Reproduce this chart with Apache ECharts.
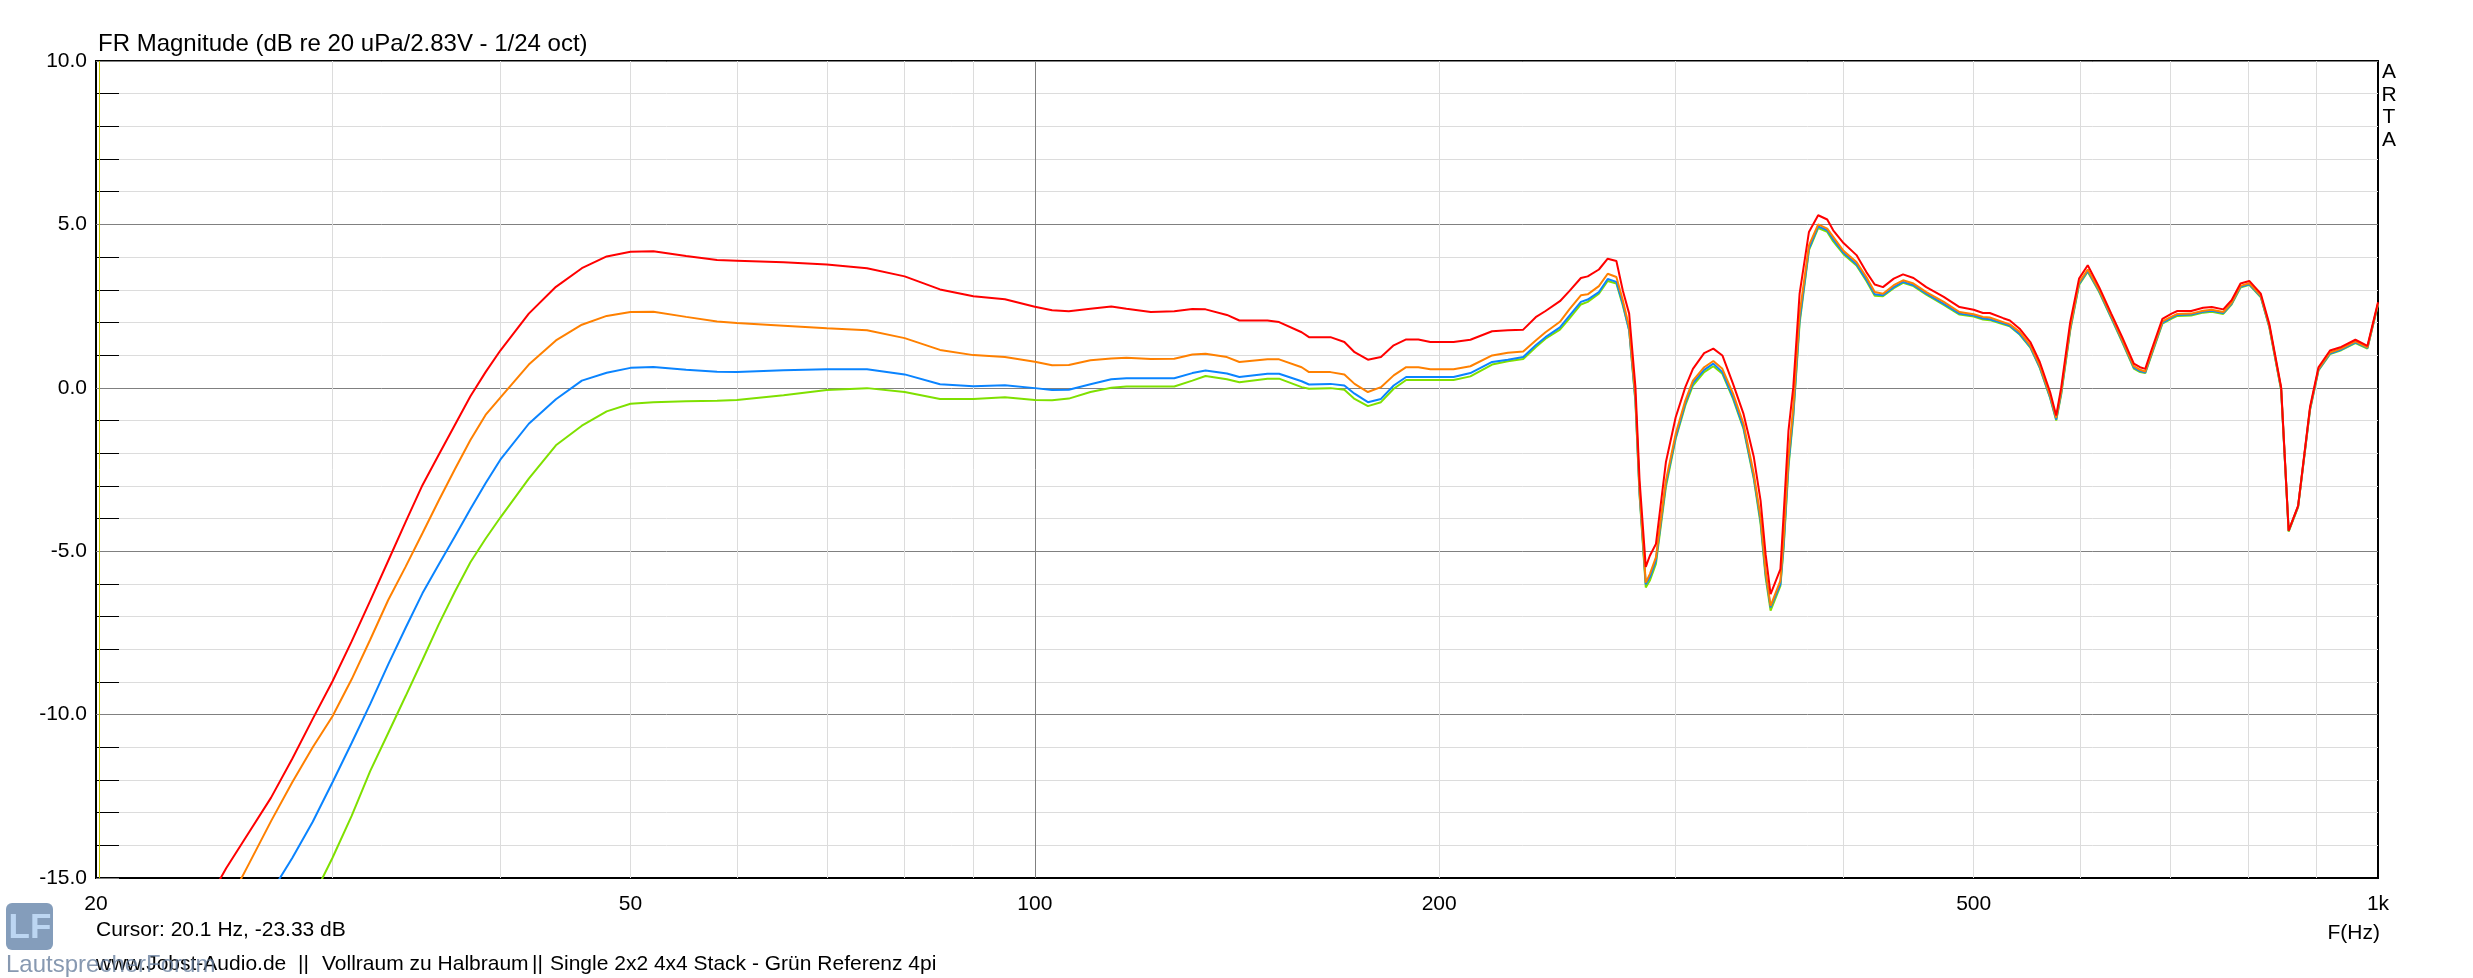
<!DOCTYPE html>
<html><head><meta charset="utf-8">
<script src="https://cdn.jsdelivr.net/npm/echarts@6/dist/echarts.min.js"></script>
<style>html,body{margin:0;padding:0;background:#fff;overflow:hidden}#chart{width:2473px;height:978px}</style>
</head><body><div id="chart"></div>
<script>
// ---- data ----
const freqHz = [
  24,25,26,27,28,29,30,31,32,33,34,35,36,37,38,39,40,42,44,46,48,50,52,55,
  58,60,65,70,75,80,85,90,95,100,103,106,110,114,
  117,122,127,131,134,139,142,149,152,158,160,166,170,173,177,181,185,189,193,197,205,211,219,225,231,236,240,
  246,250,255,258,263,267,271,274,277,280,282,285,287,290,295,300,305,309,315,320,325,331,337,343,347,350,353,359,361,364,
  367,371,377,383,389,393,400,409,416,422,428,436,443,451,461,475,488,500,508,514,526,532,541,551,560,570,576,581,590,
  599,608,620,633,645,658,665,671,678,691,702,709,726,741,752,767,778,790,802,818,830,847,858,872,890,903,921,939,962,982,1000
];
const redDb = [
  -16.0,-14.7,-13.6,-12.54,-11.35,-10.13,-8.98,-7.76,-6.52,-5.30,-4.11,-2.98,-2.04,-1.14,-0.26,0.48,1.14,2.27,3.09,3.66,4.02,4.16,4.18,4.03,
  3.91,3.89,3.84,3.77,3.66,3.41,3.01,2.80,2.71,2.48,2.37,2.34,2.42,2.49,
  2.42,2.32,2.34,2.41,2.40,2.23,2.06,2.06,2.01,1.70,1.55,1.55,1.40,1.09,0.86,0.94,1.30,1.48,1.48,1.40,1.40,1.47,1.73,1.76,1.78,2.16,2.35,
  2.65,2.96,3.36,3.41,3.62,3.95,3.88,2.98,2.27,0.02,-2.84,-5.48,-5.14,-4.78,-2.28,-0.90,0.02,0.58,1.06,1.20,0.99,0.12,-0.80,-2.12,-3.45,-5.09,-6.31,-5.55,-3.86,-1.31,
  0.02,2.88,4.77,5.28,5.15,4.82,4.43,4.06,3.54,3.16,3.08,3.34,3.47,3.36,3.08,2.78,2.47,2.39,2.29,2.29,2.13,2.06,1.81,1.40,0.79,-0.13,-0.85,0.02,2.01,
  3.34,3.75,3.08,2.27,1.55,0.74,0.63,0.58,1.14,2.11,2.27,2.35,2.35,2.45,2.47,2.40,2.68,3.19,3.27,2.88,1.96,0.02,-4.37,-3.61,-0.59,0.63,1.14,1.25,1.47,1.28,2.62
];
const orangeDb = [
  -17.3,-15.9,-14.56,-13.26,-12.07,-11.0,-10.05,-8.92,-7.71,-6.50,-5.48,-4.45,-3.44,-2.49,-1.60,-0.83,-0.30,0.71,1.45,1.93,2.20,2.32,2.33,2.17,
  2.03,1.98,1.90,1.82,1.76,1.52,1.16,1.00,0.94,0.80,0.69,0.70,0.84,0.90,
  0.92,0.88,0.89,1.02,1.04,0.94,0.79,0.87,0.87,0.63,0.48,0.48,0.41,0.12,-0.13,0.02,0.38,0.63,0.63,0.57,0.57,0.66,0.99,1.07,1.11,1.45,1.70,
  2.02,2.40,2.83,2.86,3.11,3.49,3.39,2.68,1.86,-0.29,-3.15,-5.96,-5.70,-5.19,-2.84,-1.41,-0.39,0.22,0.63,0.82,0.58,-0.18,-1.10,-2.64,-3.96,-5.60,-6.67,-5.90,-4.60,-2.12,
  -0.59,2.27,4.36,5.00,4.87,4.62,4.19,3.85,3.39,2.93,2.88,3.14,3.29,3.19,2.93,2.63,2.32,2.25,2.17,2.15,2.01,1.94,1.71,1.30,0.68,-0.23,-0.92,-0.10,1.85,
  3.22,3.62,3.00,2.20,1.47,0.66,0.55,0.50,1.05,2.03,2.18,2.26,2.27,2.36,2.39,2.32,2.60,3.12,3.20,2.82,1.90,-0.02,-4.37,-3.62,-0.63,0.58,1.08,1.20,1.42,1.24,2.58
];
const blueDb = [
  null,null,-16.5,-15.44,-14.39,-13.28,-12.07,-10.87,-9.68,-8.47,-7.35,-6.29,-5.40,-4.55,-3.71,-2.92,-2.20,-1.10,-0.35,0.22,0.46,0.61,0.64,0.55,
  0.49,0.48,0.54,0.57,0.57,0.41,0.11,0.05,0.08,-0.01,-0.07,-0.06,0.11,0.26,
  0.29,0.29,0.29,0.45,0.53,0.44,0.33,0.43,0.43,0.20,0.10,0.12,0.07,-0.18,-0.44,-0.34,0.07,0.33,0.33,0.33,0.33,0.45,0.79,0.86,0.94,1.30,1.55,
  1.85,2.20,2.63,2.70,2.93,3.33,3.24,2.57,1.76,-0.39,-3.25,-6.01,-5.80,-5.29,-2.94,-1.51,-0.47,0.14,0.55,0.74,0.48,-0.29,-1.21,-2.74,-4.07,-5.70,-6.72,-6.01,-4.80,-2.33,
  -0.80,2.06,4.26,4.94,4.82,4.54,4.13,3.78,3.31,2.86,2.83,3.08,3.24,3.14,2.88,2.57,2.27,2.21,2.12,2.10,1.97,1.90,1.65,1.25,0.63,-0.29,-0.97,-0.15,1.80,
  3.18,3.58,2.96,2.16,1.43,0.62,0.51,0.47,1.01,1.99,2.15,2.23,2.24,2.33,2.36,2.29,2.57,3.09,3.17,2.79,1.87,-0.05,-4.38,-3.63,-0.66,0.55,1.05,1.17,1.39,1.22,2.56
];
const greenDb = [
  null,null,null,null,-16.9,-15.6,-14.38,-13.1,-11.73,-10.57,-9.44,-8.33,-7.23,-6.24,-5.34,-4.62,-3.97,-2.78,-1.76,-1.16,-0.72,-0.49,-0.44,-0.41,
  -0.40,-0.37,-0.23,-0.07,-0.01,-0.13,-0.34,-0.34,-0.29,-0.37,-0.38,-0.33,-0.13,0.00,
  0.04,0.04,0.04,0.22,0.36,0.26,0.17,0.28,0.28,0.02,-0.03,-0.01,-0.06,-0.34,-0.56,-0.44,-0.03,0.24,0.24,0.24,0.24,0.35,0.71,0.81,0.88,1.24,1.50,
  1.78,2.12,2.55,2.63,2.88,3.27,3.19,2.52,1.76,-0.44,-3.30,-6.11,-5.90,-5.39,-3.04,-1.56,-0.54,0.07,0.48,0.66,0.43,-0.34,-1.26,-2.79,-4.17,-5.80,-6.82,-6.06,-4.90,-2.43,
  -0.90,1.96,4.21,4.89,4.77,4.48,4.09,3.74,3.27,2.82,2.80,3.05,3.21,3.11,2.85,2.54,2.24,2.18,2.09,2.07,1.94,1.88,1.63,1.23,0.61,-0.31,-1.00,-0.20,1.75,
  3.15,3.55,2.93,2.13,1.40,0.59,0.48,0.45,0.98,1.96,2.12,2.20,2.21,2.30,2.33,2.26,2.55,3.07,3.15,2.77,1.85,-0.07,-4.40,-3.65,-0.68,0.53,1.03,1.15,1.37,1.20,2.55
];
const xLabelValues = [20, 50, 100, 200, 500, 1000];
const xMinorValues = [30, 40, 50, 60, 70, 80, 90, 200, 300, 400, 500, 600, 700, 800, 900];
const xMajorValues = [100];
const cursorHz = 20.1;
const titleText = 'FR Magnitude (dB re 20 uPa/2.83V - 1/24 oct)';
const cursorText = 'Cursor: 20.1 Hz, -23.33 dB';
const footerParts = ['www.Jobst-Audio.de', '||', 'Vollraum zu Halbraum', '||', 'Single 2x2 4x4 Stack - Grün Referenz 4pi'];

// ---- chart ----
const FONT = '"Liberation Sans", Arial, sans-serif';
const pairs = vals => freqHz.map((f, i) => [f, vals[i]]);
const chart = echarts.init(document.getElementById('chart'), null, {renderer: 'canvas'});

const gridLines = [
  ...xMinorValues.map(v => ({xAxis: v, lineStyle: {color: '#dcdcdc', width: 1, type: 'solid'}})),
  ...xMajorValues.map(v => ({xAxis: v, lineStyle: {color: '#808080', width: 1, type: 'solid'}})),
  {xAxis: cursorHz, lineStyle: {color: '#c8c800', width: 1, type: 'solid'}}
];

function lineSeries(name, vals, color, extra) {
  return Object.assign({
    name, type: 'line', data: pairs(vals), showSymbol: false, symbol: 'none',
    connectNulls: false, clip: true, smooth: false, animation: false,
    lineStyle: {color, width: 2}, itemStyle: {color}, z: 3
  }, extra || {});
}

const txt = (x, y, text, size, align, extra) => ({
  type: 'text', x, y,
  style: Object.assign({text, font: size + 'px ' + FONT, fill: '#000', align, verticalAlign: 'middle'}, extra || {})
});

const option = {
  animation: false,
  backgroundColor: '#ffffff',
  grid: {left: 96, top: 61, width: 2282, height: 817, show: true, borderColor: '#000', borderWidth: 2,
         backgroundColor: 'rgba(0,0,0,0)', containLabel: false},
  xAxis: {
    type: 'log', logBase: 10, min: 20, max: 1000,
    axisLine: {show: true, onZero: false, lineStyle: {color: '#000', width: 2}},
    axisTick: {show: true, inside: true, length: 19, customValues: xMinorValues, lineStyle: {color: '#000', width: 1}},
    axisLabel: {show: true, customValues: xLabelValues, color: '#000', fontFamily: FONT, fontSize: 21, margin: 16,
                showMinLabel: true, showMaxLabel: true, hideOverlap: false,
                formatter: v => (v >= 1000 ? (v / 1000) + 'k' : String(v))},
    splitLine: {show: false}, minorTick: {show: false}, minorSplitLine: {show: false}
  },
  yAxis: {
    type: 'value', min: -15, max: 10, interval: 5,
    axisLine: {show: true, onZero: false, lineStyle: {color: '#000', width: 2}},
    axisTick: {show: true, inside: true, length: 23, lineStyle: {color: '#808080', width: 1}},
    minorTick: {show: true, splitNumber: 5, length: 23, lineStyle: {color: '#000', width: 1}},
    axisLabel: {color: '#000', fontFamily: FONT, fontSize: 21, margin: 9, formatter: v => v.toFixed(1)},
    splitLine: {show: true, lineStyle: {color: '#808080', width: 1}},
    minorSplitLine: {show: true, lineStyle: {color: '#dcdcdc', width: 1}}
  },
  series: [
    lineSeries('Grün', greenDb, '#7fe000', {
      markLine: {silent: true, symbol: 'none', z: 1, animation: false, label: {show: false},
                 emphasis: {disabled: true}, data: gridLines}
    }),
    lineSeries('Blau', blueDb, '#0a84ff'),
    lineSeries('Orange', orangeDb, '#ff8000'),
    lineSeries('Rot', redDb, '#ff0000')
  ],
  graphic: [
    txt(98, 44, titleText, 24, 'left'),
    {type: 'text', x: 2389, y: 61, style: {text: 'A\nR\nT\nA', font: '21px ' + FONT, fill: '#000', align: 'center', verticalAlign: 'top', lineHeight: 22.5}},
    txt(2380, 933, 'F(Hz)', 21, 'right'),
    txt(96, 930, cursorText, 21, 'left'),
    txt(96, 964, footerParts[0], 21, 'left'),
    txt(298, 964, footerParts[1], 21, 'left'),
    txt(322, 964, footerParts[2], 21, 'left'),
    txt(532, 964, footerParts[3], 21, 'left'),
    txt(550, 964, footerParts[4], 21, 'left'),
    {type: 'rect', shape: {x: 6, y: 903, width: 47, height: 47, r: 6}, style: {fill: 'rgba(110,140,175,0.85)'}},
    txt(30, 928, 'LF', 35, 'center', {font: 'bold 35px ' + FONT, fill: '#bcd6f2'}),
    txt(6, 965, 'LautsprecherForum', 24, 'left', {fill: 'rgba(105,128,158,0.8)'})
  ]
};
chart.setOption(option);
</script>
</body></html>
